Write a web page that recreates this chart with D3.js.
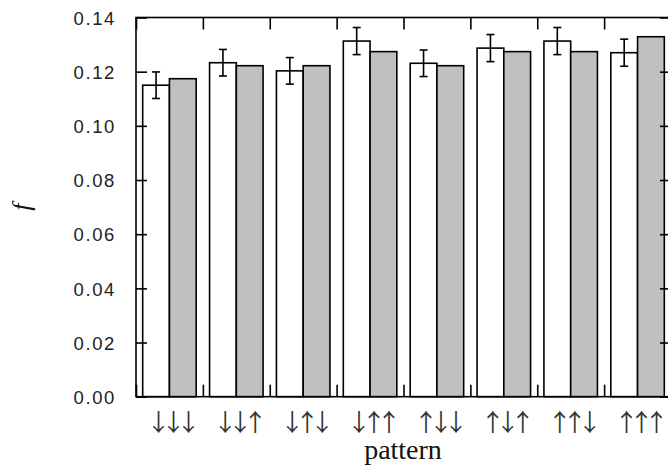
<!DOCTYPE html>
<html><head><meta charset="utf-8">
<script src="https://cdn.jsdelivr.net/npm/d3@7"></script>
<style>body{margin:0;background:#fff}</style>
</head><body><svg id="c" width="668" height="466"></svg>
<script>
const categories = ["↓↓↓","↓↓↑","↓↑↓","↓↑↑","↑↓↓","↑↓↑","↑↑↓","↑↑↑"];
const measured = [0.1150,0.1233,0.1203,0.1313,0.1231,0.1287,0.1313,0.1270];
const measuredErr = [0.0049,0.0049,0.0049,0.0050,0.0049,0.0050,0.0050,0.0050];
const predicted = [0.1174,0.1222,0.1222,0.1274,0.1222,0.1274,0.1274,0.1329];
const yTicks = [0,0.02,0.04,0.06,0.08,0.10,0.12,0.14];

const svg = d3.select("#c");
const L=136, R=671, T=17.5, B=396.7;
const x = d3.scaleLinear().domain([0,8]).range([L,R]);
const y = d3.scaleLinear().domain([0,0.14]).range([B,T]);
const bw = 0.4;
const lw = 1.6;

const g = svg.append("g");
g.selectAll("rect.m").data(measured).join("rect")
  .attr("x",(d,i)=>x(i+0.5-bw)).attr("width",x(bw)-x(0))
  .attr("y",d=>y(d)).attr("height",d=>y(0)-y(d))
  .attr("fill","#fff").attr("stroke","#000").attr("stroke-width",lw);
g.selectAll("rect.p").data(predicted).join("rect")
  .attr("x",(d,i)=>x(i+0.5)).attr("width",x(bw)-x(0))
  .attr("y",d=>y(d)).attr("height",d=>y(0)-y(d))
  .attr("fill","#c0c0c0").attr("stroke","#000").attr("stroke-width",lw);
const eb = g.selectAll("g.eb").data(measured).join("g").attr("stroke","#000").attr("stroke-width",lw);
eb.append("line").attr("x1",(d,i)=>x(i+0.5-bw/2)).attr("x2",(d,i)=>x(i+0.5-bw/2))
  .attr("y1",(d,i)=>y(d+measuredErr[i])).attr("y2",(d,i)=>y(d-measuredErr[i]));
eb.append("line").attr("x1",(d,i)=>x(i+0.5-bw/2)-4).attr("x2",(d,i)=>x(i+0.5-bw/2)+4)
  .attr("y1",(d,i)=>y(d+measuredErr[i])).attr("y2",(d,i)=>y(d+measuredErr[i]));
eb.append("line").attr("x1",(d,i)=>x(i+0.5-bw/2)-4).attr("x2",(d,i)=>x(i+0.5-bw/2)+4)
  .attr("y1",(d,i)=>y(d-measuredErr[i])).attr("y2",(d,i)=>y(d-measuredErr[i]));

svg.append("rect").attr("x",L).attr("y",T).attr("width",R-L).attr("height",B-T)
  .attr("fill","none").attr("stroke","#000").attr("stroke-width",lw);

const tickLen = 12;
const xb = d3.range(0,9);
const yl = svg.append("g").attr("transform",`translate(${L},0)`)
  .call(d3.axisLeft(y).tickValues(yTicks).tickSizeInner(-11).tickSizeOuter(0).tickFormat(d3.format(".2f")).tickPadding(20));
yl.select(".domain").remove();
yl.selectAll(".tick line").attr("stroke","#000").attr("stroke-width",lw);
yl.selectAll(".tick text").attr("font-family","Liberation Sans, Arial, sans-serif").attr("font-size",18.5)
  .attr("letter-spacing","1.6px").attr("fill","#222").attr("dy","0.36em");
const yr = svg.append("g").attr("transform",`translate(${R},0)`)
  .call(d3.axisRight(y).tickValues(yTicks).tickSizeInner(-11).tickSizeOuter(0).tickFormat(""));
yr.select(".domain").remove();
yr.selectAll(".tick line").attr("stroke","#000").attr("stroke-width",lw);

const xt = svg.append("g").attr("transform",`translate(0,${T})`)
  .call(d3.axisTop(x).tickValues(xb).tickSizeInner(-tickLen).tickSizeOuter(0).tickFormat(""));
xt.select(".domain").remove();
xt.selectAll(".tick line").attr("stroke","#000").attr("stroke-width",lw);
const xbAx = svg.append("g").attr("transform",`translate(0,${B})`)
  .call(d3.axisBottom(x).tickValues(xb).tickSizeInner(-tickLen).tickSizeOuter(0).tickFormat(""));
xbAx.select(".domain").remove();
xbAx.selectAll(".tick line").attr("stroke","#000").attr("stroke-width",lw);

svg.append("text").attr("x",403).attr("y",459).attr("text-anchor","middle")
  .attr("font-family","Liberation Serif, Times New Roman, serif").attr("font-size",28).attr("fill","#111").text("pattern");
svg.append("text").attr("x",21.5).attr("y",207).attr("transform","rotate(-90,21.5,207)")
  .attr("text-anchor","middle").attr("dominant-baseline","central")
  .attr("font-family","Liberation Serif, Times New Roman, serif").attr("font-style","italic")
  .attr("font-size",26).attr("fill","#111").text("f");

const xc = d3.scaleBand().domain(categories).range([L,R]);
svg.append("g").attr("opacity",0.999).selectAll("text").data(categories).join("text")
  .attr("x",d=>xc(d)+xc.bandwidth()/2-0.5).attr("y",431)
  .attr("text-anchor","middle").attr("font-family","Noto Sans CJK JP")
  .attr("font-size",24).attr("letter-spacing","-9px").attr("fill","#333")
  .text(d=>d);
</script></body></html>
